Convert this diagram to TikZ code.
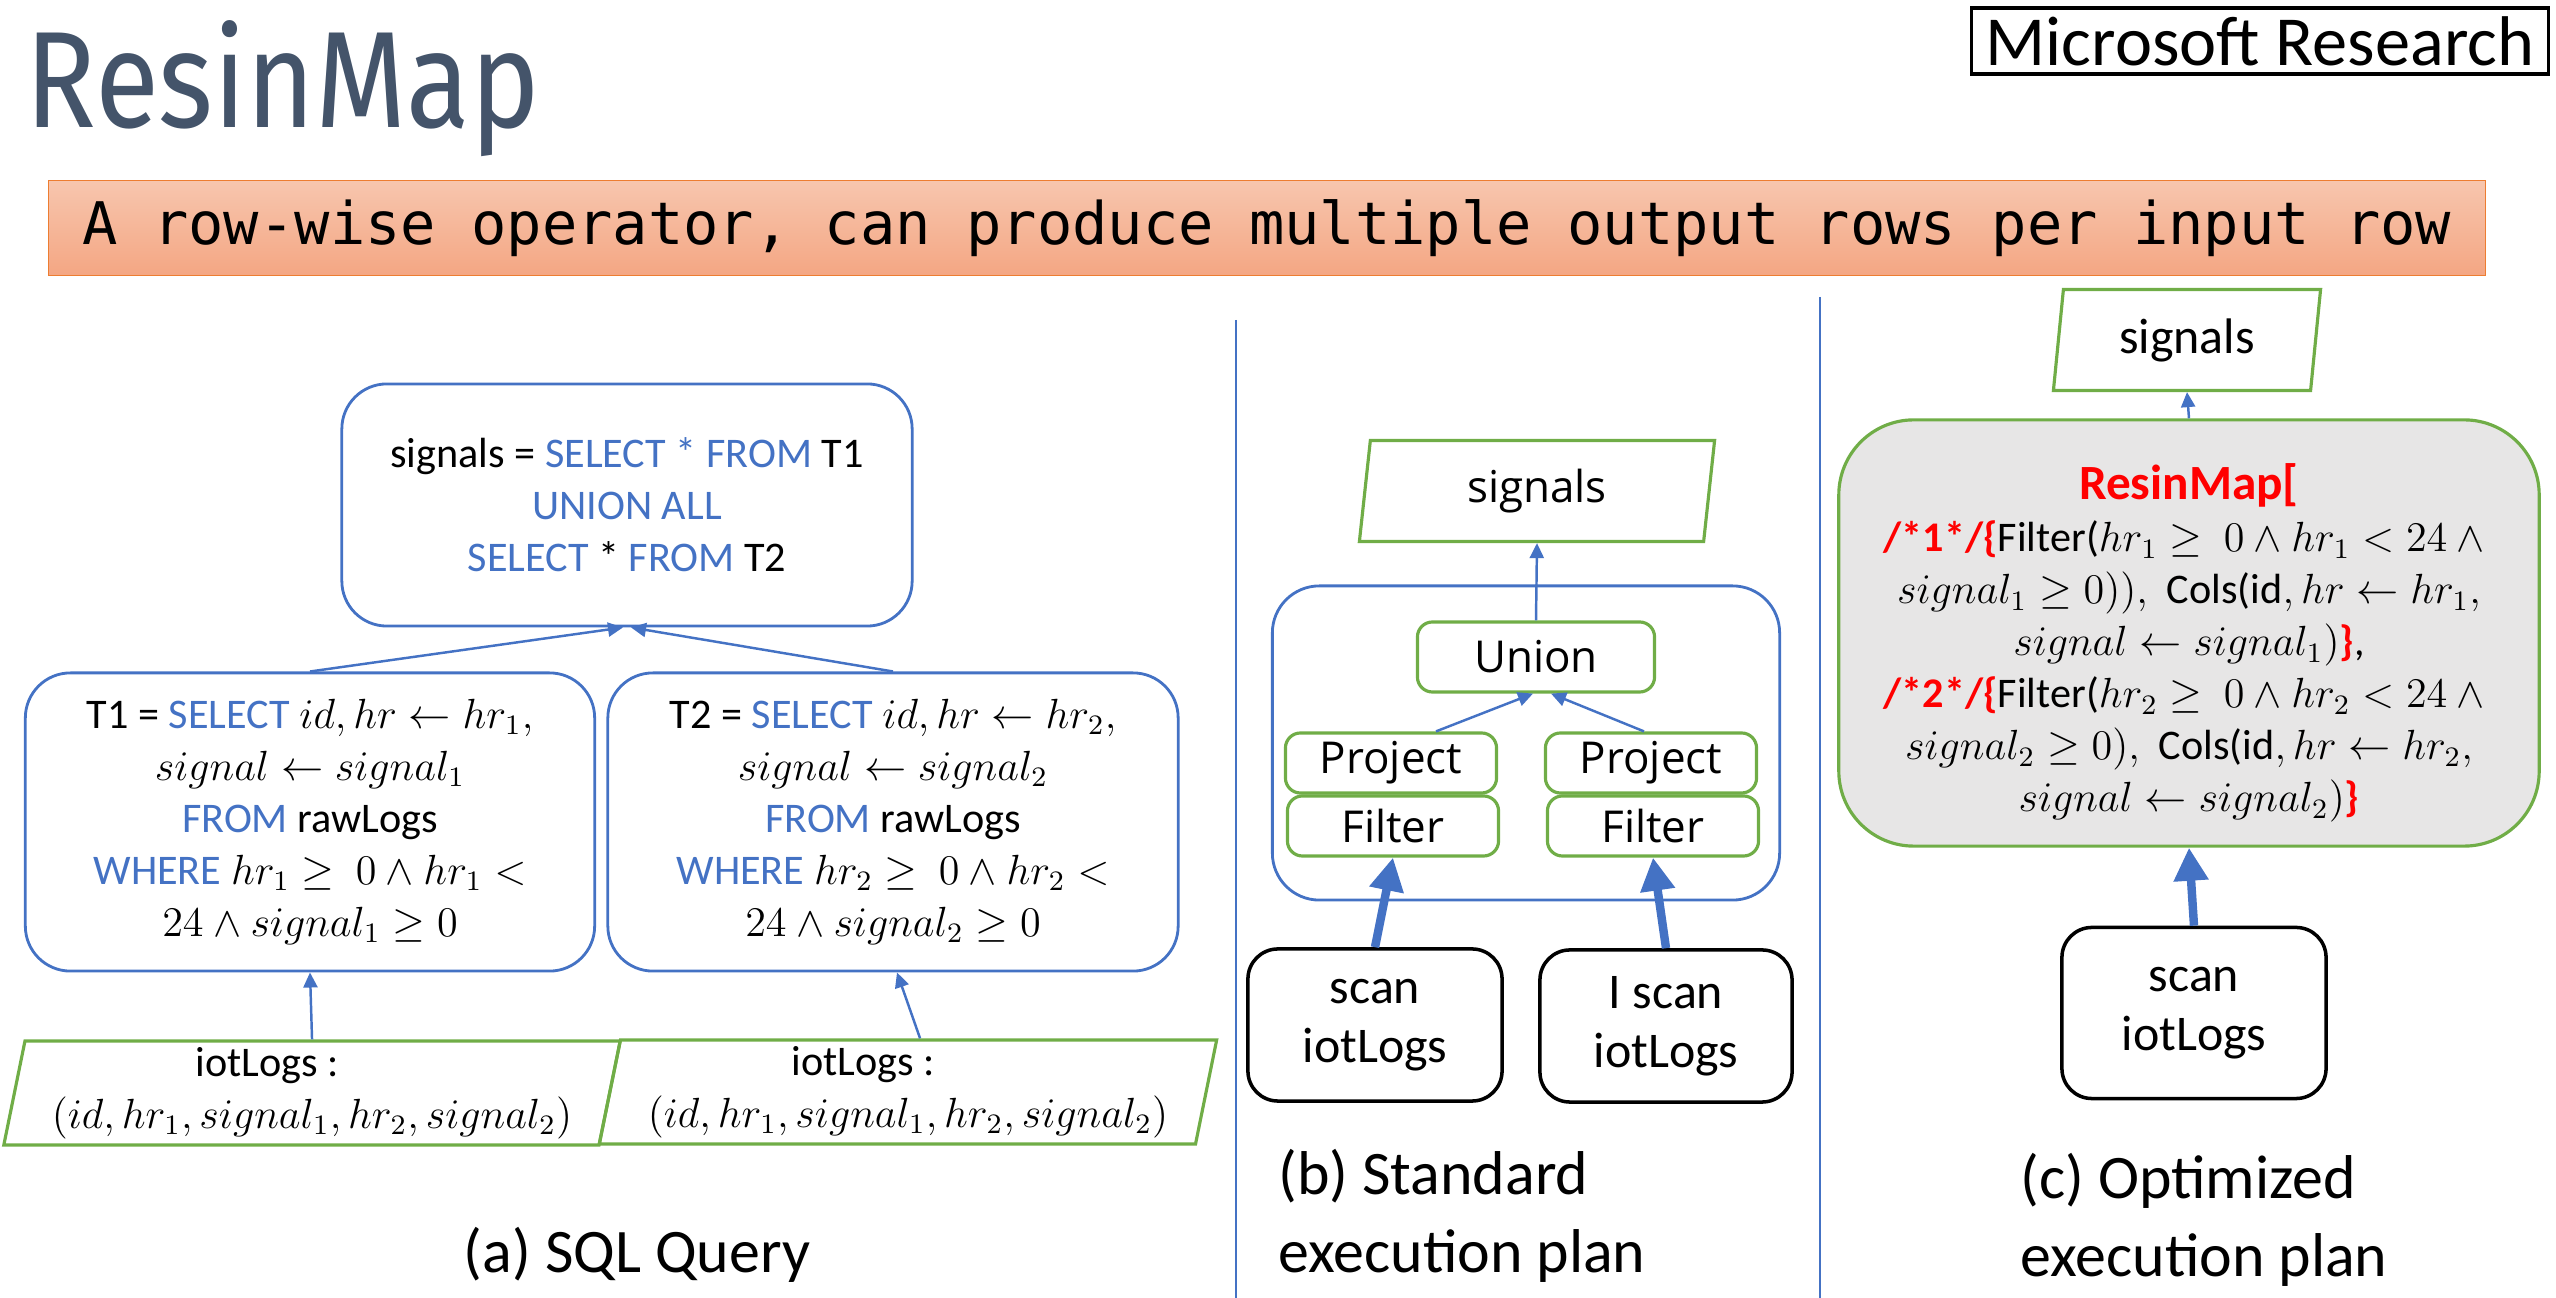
\documentclass[tikz,border=0pt]{standalone}
\usepackage{amsmath}
\usepackage{amssymb}
\usepackage{graphicx}
\usepackage{fontspec}
\setmainfont{Carlito}
\newfontfamily\segoefont{Open Sans}
\newfontfamily\bannerfont{DejaVu Sans Mono}
\newfontfamily\titlefont{Fira Sans}
\usepackage{tikz}
\usetikzlibrary{positioning,shapes.geometric,arrows.meta}
\definecolor{sqlblue}{HTML}{4472C4}
\definecolor{opgreen}{HTML}{70AD47}
\definecolor{bannerline}{HTML}{ED7D31}
\definecolor{bannertop}{HTML}{F7C6AE}
\definecolor{bannerbot}{HTML}{F4A683}
\definecolor{mapgray}{HTML}{E7E6E6}
\definecolor{slate}{HTML}{44546A}
\newcommand{\kw}[1]{\textcolor{sqlblue}{#1}}
\newcommand{\redkw}[1]{\textcolor{red}{\bfseries #1}}

\begin{document}
\begin{tikzpicture}[x=0.01cm,y=-0.01cm,
  sqlbox/.style={draw=sqlblue,line width=0.8pt,rounded corners=0.45cm,align=center,inner sep=0pt,font=\fontsize{12}{14.8}\selectfont},
  datapara/.style={trapezium,trapezium left angle=77,trapezium right angle=103,trapezium stretches body=true,draw=opgreen,line width=0.9pt,inner sep=0pt,align=center,font=\fontsize{12}{14.8}\selectfont},
  opbox/.style={draw=opgreen,line width=0.9pt,rounded corners=0.15cm,minimum width=2.11cm,minimum height=0.60cm,inner sep=0pt,font=\segoefont\fontsize{12.5}{15}\selectfont},
  scanbox/.style={draw,line width=1pt,rounded corners=0.3cm,align=center,inner sep=0pt,font=\fontsize{14.2}{16.8}\selectfont},
  thinarrow/.style={draw=sqlblue,line width=0.7pt,-{Triangle[length=0.15cm,width=0.14cm]}},
  thickarrow/.style={draw=sqlblue,line width=2.4pt,-{Triangle[length=0.33cm,width=0.33cm]}},
  captext/.style={font=\fontsize{17.6}{22}\selectfont}]
  \useasboundingbox (0,0) rectangle (2556,1298);

  \node[anchor=base west,text=slate,inner sep=0pt,font=\titlefont\fontsize{39}{42}\selectfont] (title) at (25,128) {\scalebox{0.855}[1]{ResinMap}};
  \node[draw,line width=1pt,minimum width=5.77cm,minimum height=0.66cm,inner sep=0pt,font=\fontsize{20}{24}\selectfont] (msr) at (2260,41) {Microsoft Research};
  \node[draw=bannerline,top color=bannertop,bottom color=bannerbot,minimum width=24.36cm,minimum height=0.95cm,inner sep=0pt,font=\bannerfont\fontsize{16.7}{20}\selectfont] (banner) at (1267,228) {A row-wise operator, can produce multiple output rows per input row};

  \draw[sqlblue,line width=0.5pt] (1236,320) -- (1236,1298);
  \draw[sqlblue,line width=0.5pt] (1820,297) -- (1820,1298);

  \node[sqlbox,minimum width=5.70cm,minimum height=2.42cm] (sqlall) at (627,505) {signals = \kw{SELECT * FROM} T1\\ \kw{UNION ALL}\\ \kw{SELECT} * \kw{FROM} T2};
  \node[sqlbox,minimum width=5.69cm,minimum height=2.98cm] (sqlone) at (310,822) {T1 = \kw{SELECT} $id, hr \leftarrow hr_1,$\\ $signal \leftarrow signal_1$\\ \kw{FROM} rawLogs\\ \kw{WHERE} $hr_1 \geq\ 0 \wedge hr_1 <$\\ $24 \wedge signal_1 \geq 0$};
  \node[sqlbox,minimum width=5.70cm,minimum height=2.98cm] (sqltwo) at (893,822) {T2 = \kw{SELECT} $id, hr \leftarrow hr_2,$\\ $signal \leftarrow signal_2$\\ \kw{FROM} rawLogs\\ \kw{WHERE} $hr_2 \geq\ 0 \wedge hr_2 <$\\ $24 \wedge signal_2 \geq 0$};
  \node[datapara,minimum width=6.16cm,minimum height=1.04cm] (iotl) at (312,1093) {iotLogs :\hspace*{0.9cm}\\ $(id, hr_1, signal_1, hr_2, signal_2)$};
  \node[datapara,minimum width=6.17cm,minimum height=1.04cm] (iotr) at (908,1092) {iotLogs :\hspace*{0.9cm}\\ $(id, hr_1, signal_1, hr_2, signal_2)$};
  \draw[thinarrow] (sqlone.north) -- ([xshift=-0.04cm]sqlall.south);
  \draw[thinarrow] (sqltwo.north) -- ([xshift=0.04cm]sqlall.south);
  \draw[thinarrow] (iotl.north) -- (sqlone.south);
  \draw[thinarrow] ([xshift=0.12cm]iotr.north) -- ([xshift=0.04cm]sqltwo.south);
  \node[captext] (capa) at (637,1255) {(a) SQL Query};

  \node[datapara,trapezium left angle=76,trapezium right angle=104,font=\segoefont\fontsize{12.5}{15}\selectfont,minimum width=3.55cm,minimum height=1.01cm] (sigb) at (1537,491) {signals};
  \node[draw=sqlblue,line width=0.8pt,rounded corners=0.47cm,minimum width=5.07cm,minimum height=3.14cm] (planb) at (1526,743) {};
  \node[opbox,minimum width=2.37cm,minimum height=0.70cm] (union) at (1536,657) {Union};
  \node[opbox] (projl) at (1391,763) {Project};
  \node[opbox] (filtl) at (1393,826) {Filter};
  \node[opbox] (projr) at (1651,763) {Project};
  \node[opbox] (filtr) at (1653,826) {Filter};
  \node[scanbox,minimum width=2.54cm,minimum height=1.52cm] (scanl) at (1375,1025) {scan\\ iotLogs};
  \node[scanbox,minimum width=2.52cm,minimum height=1.52cm] (scanr) at (1666,1026) {I scan\\ iotLogs};
  \draw[thinarrow] (union.north) -- (sigb.south);
  \draw[thinarrow] ([xshift=0.45cm]projl.north) -- ([xshift=-0.03cm]union.south);
  \draw[thinarrow] ([xshift=-0.07cm]projr.north) -- ([xshift=0.15cm]union.south);
  \draw[thickarrow] (scanl.north) -- (filtl.south);
  \draw[thickarrow] (scanr.north) -- (filtr.south);
  \node[captext,align=left,anchor=west] (capb) at (1266,1216) {(b) Standard\\ execution plan};

  \node[datapara,font=\fontsize{14.2}{17}\selectfont,minimum width=2.67cm,minimum height=1.01cm] (sigc) at (2187,340) {signals};
  \node[draw=opgreen,fill=mapgray,line width=0.9pt,rounded corners=0.75cm,minimum width=7.00cm,minimum height=4.26cm,inner sep=0pt,align=center,font=\fontsize{12}{14.8}\selectfont] (resin) at (2189,633) {\rule{0pt}{16pt}{\fontsize{14}{16}\selectfont\redkw{ResinMap[}}\\ \redkw{/*1*/\{}Filter($hr_1 \geq\ 0 \wedge hr_1 < 24 \wedge{}$\\ $signal_1 \geq 0)),$\ \ Cols($\mathrm{id}, hr \leftarrow hr_1,$\\ $signal \leftarrow signal_1)$\redkw{\}},\\ \redkw{/*2*/\{}Filter($hr_2 \geq\ 0 \wedge hr_2 < 24 \wedge{}$\\ $signal_2 \geq 0),$\ \ Cols($\mathrm{id}, hr \leftarrow hr_2,$\\ $signal \leftarrow signal_2)$\redkw{\}}};
  \node[scanbox,minimum width=2.64cm,minimum height=1.71cm] (scanc) at (2194,1013) {scan\\ iotLogs};
  \draw[thinarrow] (resin.north) -- (sigc.south);
  \draw[thickarrow] (scanc.north) -- (resin.south);
  \node[captext,align=left,anchor=west] (capc) at (2008,1220) {(c) Optimized\\ execution plan};
\end{tikzpicture}
\end{document}
